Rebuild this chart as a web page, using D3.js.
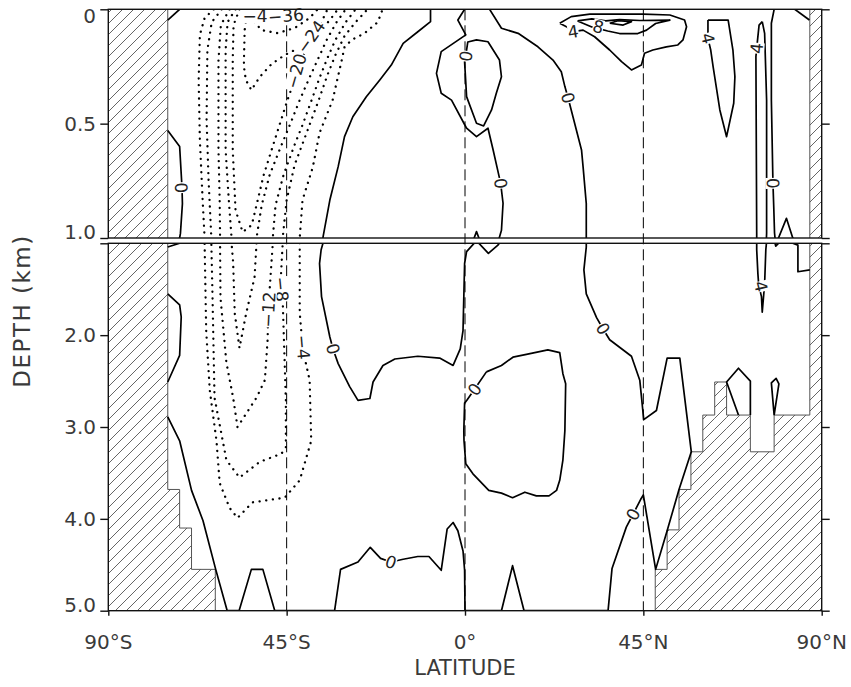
<!DOCTYPE html>
<html>
<head>
<meta charset="utf-8">
<title>Overturning streamfunction</title>
<script src="https://cdn.jsdelivr.net/npm/d3@7/dist/d3.min.js"></script>
<style>
body { margin: 0; background: #ffffff; }
text { font-family: "DejaVu Sans", "Liberation Sans", sans-serif; fill: #3a3a3a; }
</style>
</head>
<body>
<script>
// axis ticks
var lat_ticks = [-90, -45, 0, 45, 90];
var lat_labels = ['90°S', '45°S', '0°', '45°N', '90°N'];
var upper_depth_ticks = [0, 0.5, 1.0];
var lower_depth_ticks = [1.0, 2.0, 3.0, 4.0, 5.0];
var depth_labels_upper = [0, 0.5, 1.0];
var depth_labels_lower = [2.0, 3.0, 4.0, 5.0];
var ref_lats = [-45, 0, 45];

// land (hatched): [lat from, lat to, top depth km], filled down to 5 km
var land_south = [[-90, -75, 0], [-75, -72, 3.68], [-72, -69, 4.1], [-69, -63, 4.55]];
var land_north = [[48, 51, 4.55], [51, 54, 4.12], [54, 57, 3.68], [57, 60, 3.27], [60, 63, 2.87],
                  [63, 66, 2.51], [66, 72, 2.87], [72, 78, 3.27], [78, 87, 2.87], [87, 90, 0]];

// contour lines, points are [latitude, depth km]
var c0_sw_top = [[-75, 0.047], [-72, 0]];
var c0_sw_upper = [[-75, 0.53], [-72, 0.60], [-71.6, 0.72], [-71.4, 0.78], [-71.3, 0.85], [-71.8, 0.98], [-72, 1.0], [-75, 1.04]];
var c0_sw_mid = [[-75, 1.55], [-72, 1.67], [-71.6, 1.80], [-72, 2.22], [-75, 2.51]];
var c0_deep = [[-75, 2.89], [-72, 3.15], [-69.0, 3.69], [-66.1, 4.02], [-62.9, 4.55], [-60.0, 5.0], [-57.0, 5.0], [-53.9, 4.55],
  [-51.0, 4.55], [-48.0, 5.0], [-32.9, 5.0], [-31.4, 4.55], [-27.0, 4.47], [-23.9, 4.31], [-21.3, 4.43], [-18.7, 4.47],
  [-15.6, 4.44], [-11.9, 4.41], [-9.1, 4.41], [-6.0, 4.56], [-4.5, 4.11], [-3.0, 4.04], [-1.8, 4.13], [-0.5, 4.35],
  [-0.1, 4.56], [0, 5.0], [9.2, 5.0], [12.0, 4.51], [14.9, 5.0], [36.1, 5.0], [37.1, 4.54], [40.7, 4.09], [42.4, 3.95],
  [44.3, 3.79], [45.0, 3.74], [48.1, 4.55], [51.0, 4.13], [54.0, 3.68], [57.1, 3.27], [54.2, 2.25], [51.0, 2.25],
  [48.3, 2.82], [45.1, 2.92], [44.1, 2.49], [42.0, 2.23], [36.5, 2.05], [34.8, 1.93], [33.2, 1.81], [30.6, 1.55],
  [30.0, 1.29], [30.6, 1.04], [30.6, 0.99], [30.6, 0.85], [29.8, 0.69], [29.4, 0.615], [26.8, 0.44], [26.0, 0.387],
  [25.2, 0.338], [24.3, 0.273], [22.2, 0.222], [18.4, 0.164], [13.4, 0.105], [9.2, 0.083], [6.2, 0]];
var c0_central = [[-8.7, 0], [-8.7, 0.054], [-11.9, 0.098], [-15.6, 0.149], [-18.6, 0.244], [-21.5, 0.309], [-24.9, 0.382],
  [-28.3, 0.470], [-30.4, 0.557], [-32.0, 0.688], [-34.1, 0.834], [-35.8, 0.994], [-36.3, 1.07], [-36.7, 1.22],
  [-36.2, 1.58], [-34.1, 2.02], [-33.3, 2.15], [-32.0, 2.31], [-29.1, 2.56], [-27.0, 2.71], [-24.0, 2.69], [-23.2, 2.51],
  [-20.7, 2.33], [-17.7, 2.26], [-11.9, 2.23], [-6.4, 2.25], [-3.0, 2.33], [-1.2, 2.15], [-0.5, 1.95], [-0.1, 1.22],
  [0.4, 1.09], [2.9, 0.972], [5.9, 1.11], [8.3, 1.02], [9.2, 0.966], [9.6, 0.848], [9.0, 0.761], [7.1, 0.615],
  [5.8, 0.520], [2.9, 0.557], [0.4, 0.520], [-3.4, 0.397], [-6.0, 0.367], [-7.2, 0.280], [-6.0, 0.185], [0.2, 0.112],
  [-1.8, 0.047], [-0.1, 0]];
var c0_eq_upper = [[0.2, 0.20], [-0.1, 0.23], [0.4, 0.382], [2.9, 0.498], [4.7, 0.510], [6.7, 0.440], [7.9, 0.367],
  [9.2, 0.295], [8.7, 0.222], [5.8, 0.142], [2.9, 0.134], [0.7, 0.143], [0.2, 0.20]];
var c0_eq_lower = [[5.4, 2.40], [9.2, 2.33], [12.1, 2.24], [15.5, 2.21], [20.9, 2.16], [23.9, 2.19], [24.7, 2.42], [25.4, 2.53],
  [25.2, 3.04], [24.7, 3.36], [23.9, 3.58], [23.1, 3.69], [21.2, 3.75], [18.0, 3.75], [15.1, 3.71], [12.0, 3.77],
  [9.2, 3.72], [6.0, 3.69], [2.0, 3.51], [0.2, 3.40], [-0.25, 3.15], [-0.3, 3.04], [-0.1, 2.74], [0.6, 2.70],
  [2.4, 2.59], [5.4, 2.40]];
var c0_arctic = [[78.0, 0], [77.3, 0.061], [77.3, 0.397], [77.7, 0.761], [77.9, 0.863], [78.1, 0.978], [78.4, 1.03],
  [81.1, 0.914], [82.7, 1.0], [84.0, 1.02], [84.0, 1.31], [87, 1.29]];
var c0_ne_top = [[83.2, 0], [86.9, 0.047]];
var c0_ridge_a = [[69.0, 2.87], [66.0, 2.51], [69.0, 2.36], [72.0, 2.50], [72.0, 2.87]];
var c0_ridge_b = [[78.0, 2.87], [77.3, 2.52], [78.5, 2.47], [79.2, 2.53], [78.0, 2.87]];
var c4_nh_top = [[23.9, 0.061], [26.8, 0.032], [31.5, 0.021], [44.9, 0.021], [51.7, 0.025], [55.4, 0.047], [55.9, 0.076],
  [55.0, 0.134], [53.7, 0.156], [50.8, 0.164], [47.4, 0.178], [45.3, 0.192], [44.5, 0.244], [42.0, 0.265], [39.5, 0.229],
  [36.5, 0.178], [32.7, 0.12], [29.8, 0.091], [27.3, 0.098], [25.6, 0.076], [23.9, 0.061]];
var c8_nh_top = [[28.4, 0.051], [32.0, 0.042], [35.5, 0.051], [39.0, 0.045], [44.1, 0.049], [51.7, 0.047], [48.1, 0.062],
  [45.8, 0.091], [43.6, 0.106], [39.0, 0.106], [36.0, 0.095], [32.0, 0.077], [28.4, 0.051]];
var c12_nh_top = [[36.5, 0.061], [38.6, 0.050], [42.0, 0.054], [39.9, 0.069], [36.5, 0.061]];
var c4_nordic = [[61.3, 0.047], [66.4, 0.047], [67.6, 0.178], [68.1, 0.295], [67.8, 0.411], [66.0, 0.557], [64.3, 0.44],
  [62.6, 0.251], [62.0, 0.178], [61.3, 0.127], [61.3, 0.047]];
var c4_arctic = [[75.0, 0.054], [75.6, 0.105], [76.1, 0.397], [76.1, 0.979], [75.9, 1.07], [75.6, 1.44], [75.0, 1.75],
  [74.8, 1.58], [74.1, 1.45], [73.9, 1.33], [73.6, 1.07], [73.6, 0.979], [73.4, 0.207], [73.6, 0.17], [74.2, 0.069], [75.0, 0.054]];
// negative (southern) cell
var cn4 = [[-63.4, 0], [-65.7, 0.038], [-66.9, 0.112], [-67.2, 0.309], [-66.9, 0.571], [-66.2, 0.834], [-65.7, 1.0],
  [-65.3, 1.95], [-64.4, 2.60], [-62.7, 3.15], [-61.9, 3.61], [-59.4, 3.88], [-57.4, 3.99], [-53.6, 3.82], [-45.5, 3.77],
  [-41.7, 3.58], [-38.8, 3.15], [-39.2, 2.49], [-40.9, 2.16], [-41.7, 1.76], [-41.7, 1.0], [-41.0, 0.834], [-38.4, 0.690],
  [-36.7, 0.541], [-33.4, 0.397], [-31.2, 0.230], [-30.4, 0.165], [-28.6, 0.134], [-25.3, 0.104], [-22.0, 0.056], [-20.8, 0]];
var cn8 = [[-61.4, 0], [-63.9, 0.056], [-65.0, 0.178], [-65.2, 0.484], [-64.7, 0.746], [-64.0, 1.0], [-63.7, 1.59],
  [-63.2, 2.68], [-60.2, 3.36], [-56.9, 3.55], [-51.8, 3.38], [-46.3, 3.29], [-45.2, 3.22], [-45.2, 2.71], [-45.5, 2.30],
  [-46.0, 1.62], [-46.5, 1.40], [-46.0, 1.0], [-45.0, 0.834], [-43.0, 0.681], [-39.7, 0.528], [-36.9, 0.397],
  [-34.7, 0.287], [-32.7, 0.200], [-30.4, 0.117], [-27.6, 0.056], [-24.6, 0]];
var cn12 = [[-59.4, 0], [-61.6, 0.069], [-62.2, 0.222], [-62.2, 0.615], [-61.9, 0.834], [-61.8, 1.0], [-61.7, 1.59],
  [-60.2, 2.30], [-58.5, 2.68], [-57.4, 3.00], [-52.6, 2.68], [-50.5, 2.49], [-49.8, 2.05], [-49.7, 1.84], [-49.3, 1.51],
  [-48.5, 1.0], [-47.8, 0.856], [-45.8, 0.725], [-43.0, 0.593], [-41.0, 0.506], [-38.7, 0.397], [-36.7, 0.300],
  [-34.7, 0.213], [-32.7, 0.134], [-30.1, 0.056], [-27.6, 0]];
var cn16 = [[-57.9, 0], [-59.9, 0.056], [-60.4, 0.178], [-60.4, 0.615], [-59.6, 0.834], [-58.9, 1.0], [-58.5, 1.21],
  [-58.1, 1.76], [-56.9, 2.14], [-55.2, 1.76], [-53.1, 1.37], [-52.6, 1.0], [-51.3, 0.856], [-49.3, 0.725],
  [-46.5, 0.602], [-44.2, 0.506], [-41.7, 0.397], [-39.5, 0.309], [-37.2, 0.222], [-34.9, 0.134], [-32.4, 0.056], [-30.1, 0]];
var cn20 = [[-56.9, 0], [-58.4, 0.069], [-58.6, 0.222], [-58.6, 0.615], [-57.9, 0.878], [-56.1, 0.974], [-53.8, 0.943],
  [-52.3, 0.834], [-50.8, 0.725], [-48.8, 0.615], [-46.8, 0.506], [-44.8, 0.397], [-43.0, 0.309], [-41.7, 0.230],
  [-39.7, 0.169], [-37.2, 0.108], [-34.1, 0.047], [-32.1, 0]];
var cn24 = [[-54.8, 0], [-55.6, 0.091], [-55.8, 0.248], [-55.3, 0.309], [-53.9, 0.353], [-51.8, 0.296], [-48.8, 0.239],
  [-45.5, 0.200], [-42.5, 0.174], [-39.2, 0.134], [-36.7, 0.073], [-34.7, 0]];
var cn28 = [[-53.1, 0], [-53.6, 0.047], [-51.3, 0.091], [-47.3, 0.104], [-43.0, 0.082], [-39.2, 0.038], [-37.2, 0]];
var cn32 = [[-51.3, 0], [-50.3, 0.034], [-46.3, 0.047], [-42.3, 0.029], [-40.2, 0]];
var cn36 = [[-49.3, 0], [-47.3, 0.021], [-43.7, 0.016], [-42.3, 0]];

var contours = [
  {level: 0, pts: c0_sw_top}, {level: 0, pts: c0_sw_upper}, {level: 0, pts: c0_sw_mid}, {level: 0, pts: c0_deep},
  {level: 0, pts: c0_central}, {level: 0, pts: c0_eq_upper}, {level: 0, pts: c0_eq_lower}, {level: 0, pts: c0_arctic},
  {level: 0, pts: c0_ne_top}, {level: 0, pts: c0_ridge_a}, {level: 0, pts: c0_ridge_b},
  {level: 4, pts: c4_nh_top}, {level: 8, pts: c8_nh_top}, {level: 12, pts: c12_nh_top},
  {level: 4, pts: c4_nordic}, {level: 4, pts: c4_arctic},
  {level: -4, pts: cn4}, {level: -8, pts: cn8}, {level: -12, pts: cn12}, {level: -16, pts: cn16},
  {level: -20, pts: cn20}, {level: -24, pts: cn24}, {level: -28, pts: cn28}, {level: -32, pts: cn32}, {level: -36, pts: cn36}
];

// contour labels: [text, lat, depth]
var contour_labels = [
  ['0', -71.6, 0.78], ['0', -33.3, 2.15], ['0', -18.7, 4.47], ['0', 0.2, 0.205], ['0', 9.0, 0.761],
  ['0', 2.4, 2.59], ['0', 26.0, 0.387], ['0', 34.8, 1.93], ['0', 42.4, 3.95], ['0', 77.7, 0.761],
  ['4', 27.3, 0.098], ['8', 33.6, 0.076], ['4', 61.3, 0.127], ['4', 73.6, 0.17], ['4', 74.7, 1.47],
  ['-4', -40.9, 2.13], ['-8', -46.3, 1.50], ['-12', -49.6, 1.72], ['-20', -42.6, 0.27], ['-24', -38.9, 0.12],
  ['-40', -51.6, 0.028], ['-36', -45.2, 0.028]
];

var width = 851, height = 687;
var x_scale = d3.scaleLinear().domain([-90, 90]).range([108.3, 821.7]);
var y_upper = d3.scaleLinear().domain([0, 1]).range([9.3, 238]);
var y_lower = d3.scaleLinear().domain([1, 5]).range([243.3, 610.7]);
var panels = [{id: 'upper', y: y_upper, top: 0, bottom: 1, ticks: upper_depth_ticks},
              {id: 'lower', y: y_lower, top: 1, bottom: 5, ticks: lower_depth_ticks}];

function px(p) { return [x_scale(p[0]), p[1] <= 1 ? y_upper(p[1]) : y_lower(p[1])]; }

function seg_dist(q, a, b) {
  var dx = b[0] - a[0], dy = b[1] - a[1];
  var t = ((q[0] - a[0]) * dx + (q[1] - a[1]) * dy) / (dx * dx + dy * dy || 1);
  t = Math.max(0, Math.min(1, t));
  var ex = a[0] + t * dx - q[0], ey = a[1] + t * dy - q[1];
  return Math.sqrt(ex * ex + ey * ey);
}

// label follows the direction of the nearest piece of its contour
function label_angle(lab) {
  var q = px([lab[1], lab[2]]), best = null, bestd = Infinity;
  contours.forEach(function(c) {
    if (c.level != +lab[0]) return;
    for (var i = 0; i < c.pts.length - 1; i++) {
      var a = px(c.pts[i]), b = px(c.pts[i + 1]);
      var d = seg_dist(q, a, b);
      if (d < bestd) { bestd = d; best = [a, b]; }
    }
  });
  if (!best || bestd > 12) return 0;
  var ang = Math.atan2(best[1][1] - best[0][1], best[1][0] - best[0][0]) * 180 / Math.PI;
  if (ang > 90) ang -= 180;
  if (ang <= -90) ang += 180;
  return ang;
}

function step_outline(land) {
  var pts = [[land[0][0], 5]];
  land.forEach(function(d) { pts.push([d[0], d[2]]); pts.push([d[1], d[2]]); });
  pts.push([land[land.length - 1][1], 5]);
  return pts;
}

var svg = d3.select('body').append('svg').attr('width', width).attr('height', height);
var defs = svg.append('defs');
defs.append('pattern').attr('id', 'hatch').attr('patternUnits', 'userSpaceOnUse')
    .attr('width', 11).attr('height', 11)
  .append('path').attr('d', 'M0,11 L11,0 M-2,2 L2,-2 M9,13 L13,9')
    .attr('stroke', '#555').attr('stroke-width', 0.9);

panels.forEach(function(p) {
  defs.append('clipPath').attr('id', 'clip-' + p.id).append('rect')
    .attr('x', x_scale(-90)).attr('y', p.y(p.top))
    .attr('width', x_scale(90) - x_scale(-90)).attr('height', p.y(p.bottom) - p.y(p.top));

  var line = d3.line().x(d => x_scale(d[0])).y(d => p.y(d[1]));
  var g = svg.append('g').attr('clip-path', 'url(#clip-' + p.id + ')');

  // land
  g.selectAll('rect.land').data(land_south.concat(land_north)).enter().append('rect')
    .attr('class', 'land')
    .attr('x', d => x_scale(d[0])).attr('width', d => x_scale(d[1]) - x_scale(d[0]))
    .attr('y', d => p.y(d[2])).attr('height', d => p.y(5) - p.y(d[2]))
    .attr('fill', 'url(#hatch)');
  g.selectAll('path.coast').data([step_outline(land_south), step_outline(land_north)]).enter().append('path')
    .attr('class', 'coast').attr('d', line)
    .attr('fill', 'none').attr('stroke', '#555').attr('stroke-width', 1);

  // contours
  g.selectAll('path.contour').data(contours).enter().append('path')
    .attr('class', 'contour').attr('d', d => line(d.pts))
    .attr('fill', 'none').attr('stroke', '#000')
    .attr('stroke-width', d => d.level < 0 ? 2.3 : 1.7)
    .attr('stroke-linejoin', 'round')
    .attr('stroke-linecap', d => d.level < 0 ? 'round' : 'butt')
    .attr('stroke-dasharray', d => d.level < 0 ? '0.1,6.6' : null);
});

// dashed reference meridians
svg.selectAll('line.ref').data(ref_lats).enter().append('line')
  .attr('x1', d => x_scale(d)).attr('x2', d => x_scale(d))
  .attr('y1', y_upper(0)).attr('y2', y_lower(5))
  .attr('stroke', '#000').attr('stroke-width', 1).attr('stroke-dasharray', '11,5');

// contour labels
var lg = svg.append('g').selectAll('g').data(contour_labels).enter().append('g')
  .attr('transform', function(d) {
    var q = px([d[1], d[2]]);
    return 'translate(' + q[0] + ',' + q[1] + ') rotate(' + label_angle(d) + ')';
  });
lg.append('rect').attr('fill', '#fff');
lg.append('text').attr('text-anchor', 'middle').attr('dy', '0.36em')
  .style('font-size', '17px').style('fill', '#222')
  .text(d => d[0].replace('-', '\u2212'));
lg.each(function() {
  var g = d3.select(this), bb = g.select('text').node().getBBox();
  g.select('rect').attr('x', bb.x).attr('y', bb.y + 2.5).attr('width', bb.width).attr('height', bb.height - 5);
});

// frames and axes
panels.forEach(function(p) {
  svg.append('rect').attr('x', x_scale(-90)).attr('y', p.y(p.top))
    .attr('width', x_scale(90) - x_scale(-90)).attr('height', p.y(p.bottom) - p.y(p.top))
    .attr('fill', 'none').attr('stroke', '#111').attr('stroke-width', 1.4);
  var left = svg.append('g').attr('transform', 'translate(' + x_scale(-90) + ',0)')
    .call(d3.axisLeft(p.y).tickValues(p.ticks).tickSize(8).tickFormat(''));
  var right = svg.append('g').attr('transform', 'translate(' + x_scale(90) + ',0)')
    .call(d3.axisRight(p.y).tickValues(p.ticks).tickSize(8).tickFormat(''));
  [left, right].forEach(function(a) {
    a.select('.domain').remove();
    a.selectAll('line').attr('stroke', '#111').attr('stroke-width', 1.4);
  });
});

var bottom = svg.append('g').attr('transform', 'translate(0,' + y_lower(5) + ')')
  .call(d3.axisBottom(x_scale).tickValues(lat_ticks).tickSize(5).tickFormat(''));
bottom.select('.domain').remove();
bottom.selectAll('line').attr('stroke', '#111').attr('stroke-width', 1.4);

// tick labels
function depth_label_y(d, scale) {
  var y = scale(d);
  if (d === 0) return y + 6;
  if (d === 1) return y - 6;
  if (d === 5) return y - 6;
  return y;
}
svg.selectAll('text.dl').data(depth_labels_upper.map(d => [d, y_upper]).concat(depth_labels_lower.map(d => [d, y_lower])))
  .enter().append('text').attr('class', 'dl')
  .attr('x', 96).attr('y', d => depth_label_y(d[0], d[1])).attr('dy', '0.36em')
  .attr('text-anchor', 'end').style('font-size', '20px')
  .text(d => d[0] === 0 ? '0' : d[0].toFixed(1));

svg.selectAll('text.ll').data(lat_ticks).enter().append('text').attr('class', 'll')
  .attr('x', d => x_scale(d)).attr('y', 649).attr('text-anchor', 'middle').style('font-size', '20px')
  .text((d, i) => lat_labels[i]);

svg.append('text').attr('x', x_scale(0)).attr('y', 675).attr('text-anchor', 'middle')
  .style('font-size', '21px').text('LATITUDE');
svg.append('text').attr('transform', 'translate(30,311) rotate(-90)').attr('text-anchor', 'middle')
  .style('font-size', '23px').style('letter-spacing', '1.5px').text('DEPTH (km)');
</script>
</body>
</html>
